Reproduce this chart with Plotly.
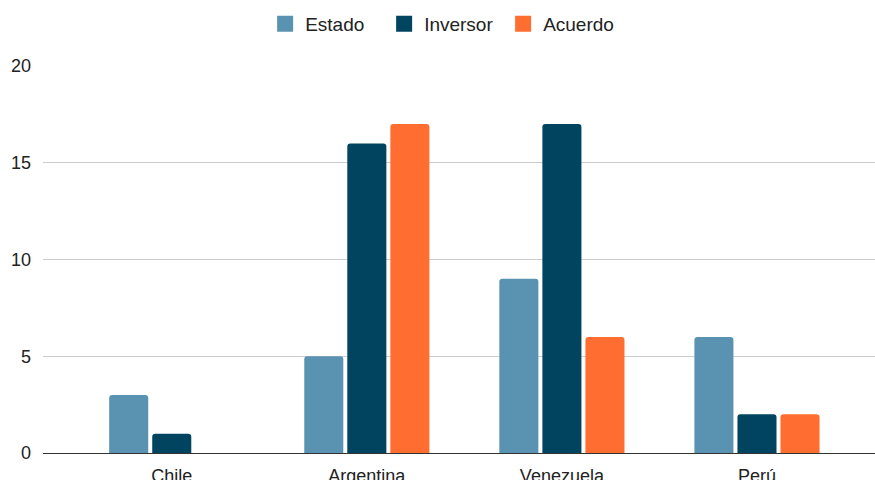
import plotly.graph_objects as go

categories = ["Chile", "Argentina", "Venezuela", "Perú"]
estado = [3, 5, 9, 6]
inversor = [1, 16, 17, 2]
acuerdo = [0, 17, 6, 2]

colors = {"Estado": "#5A93B1", "Inversor": "#00445F", "Acuerdo": "#FF6D31"}
FONT = "Arial, 'Liberation Sans', sans-serif"

fig = go.Figure()
for name, vals in [("Estado", estado), ("Inversor", inversor), ("Acuerdo", acuerdo)]:
    fig.add_trace(go.Bar(name=name, x=list(range(len(categories))), y=vals, showlegend=False,
                         marker=dict(color=colors[name], line=dict(width=0))))
# legend entries with larger square swatches
for name in ["Estado", "Inversor", "Acuerdo"]:
    fig.add_trace(go.Scatter(name=name, x=[None], y=[None], mode="markers",
                             marker=dict(symbol="square", size=19, color=colors[name]),
                             showlegend=True))

fig.update_layout(
    width=875, height=480,
    margin=dict(l=43, r=0, t=66, b=27, autoexpand=False),
    barmode="group", bargap=0.338, bargroupgap=0.093, barcornerradius=3,
    plot_bgcolor="white", paper_bgcolor="white",
    font=dict(family=FONT, size=18, color="#222222"),
    legend=dict(orientation="h", xref="container", yref="container", x=0.507, y=0.99,
                xanchor="center", yanchor="top", font=dict(size=19, color="#222222"),
                itemwidth=30, entrywidth=74, entrywidthmode="pixels", traceorder="normal"),
    xaxis=dict(tickmode="array", tickvals=list(range(len(categories))), ticktext=categories,
               range=[-0.66, 3.605], showgrid=False, showline=False, zeroline=False,
               automargin=False, ticks="", ticklabelstandoff=10, tickfont=dict(size=18)),
    yaxis=dict(range=[0, 20], tickvals=[0, 5, 10, 15, 20], showgrid=True, gridcolor="#cccccc",
               gridwidth=1, zeroline=True, zerolinecolor="#333333", zerolinewidth=1,
               automargin=False, showline=False, ticks="", ticklabelstandoff=11,
               tickfont=dict(size=18)),
)

fig.write_html("out.html")
